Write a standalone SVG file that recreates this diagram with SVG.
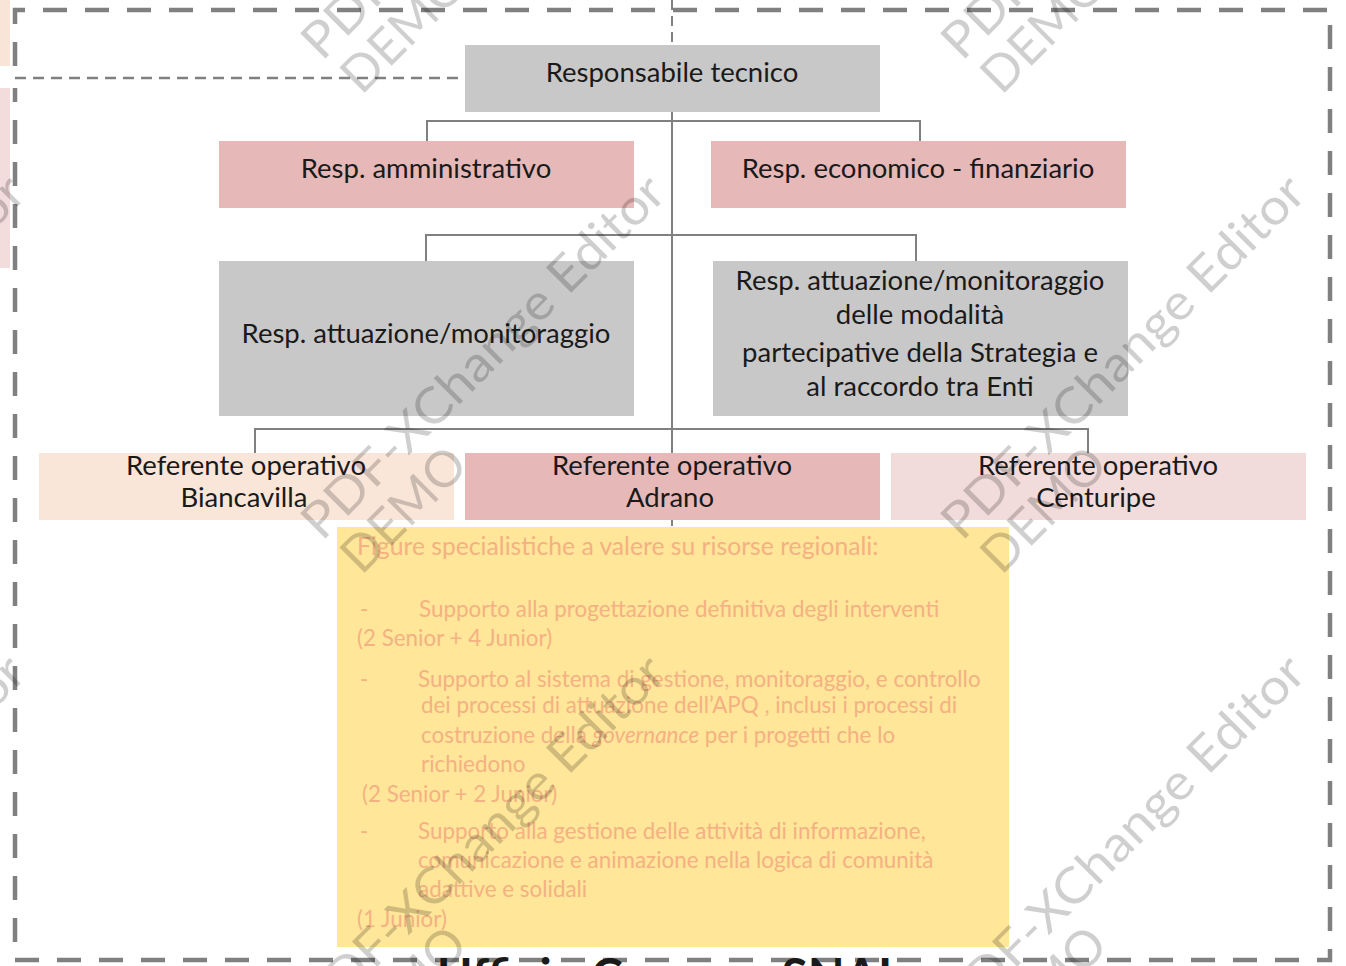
<svg xmlns="http://www.w3.org/2000/svg" width="1346" height="966" viewBox="0 0 1346 966">
<style>
.box text{font-family:Lato,"Liberation Sans",sans-serif;font-size:27.5px;fill:#1a1a1a;text-anchor:middle}
.conn{stroke:#808080;stroke-width:2;fill:none}
.yt{font-family:Lato,"Liberation Sans",sans-serif;font-size:22.4px;fill:#f4b183}
.yt.h{font-size:24.7px}
.wm{font-family:Lato,"Liberation Sans",sans-serif;font-size:50px;fill:#000;fill-opacity:0.19}
.gray{fill:#c8c8c8}.pink{fill:#e6b8b7}
</style>
<rect width="1346" height="966" fill="#fff"/>
<rect x="0" y="0" width="10" height="66" fill="#f9e5d8"/>
<rect x="0" y="88" width="10" height="180" fill="#f2dcdc"/>
<g id="frame" fill="none" stroke="#808080">
<path d="M15 66 V10 H1330 V960 H15 V88" stroke-width="4.5" stroke-dasharray="24 18"/>
<path d="M15 78 H470" stroke-width="2.5" stroke-dasharray="11 7"/>
<path d="M672 0 V45" stroke-width="2" stroke-dasharray="10 6"/>
</g>
<text x="437" y="993" font-family="Lato,'Liberation Sans',sans-serif" font-size="48" font-weight="bold" fill="#1a1a1a">Ufficio Comune SNAI</text>
<g id="connectors" class="conn">
<path d="M672 112 V526"/>
<path d="M427 141 V121 H920 V141"/>
<path d="M426 261 V235 H916 V261"/>
<path d="M255 453 V429 H1088 V453"/>
</g>
<g id="n1" class="box"><rect class="gray" x="465" y="45" width="415" height="67"/><text x="672" y="82">Responsabile tecnico</text></g>
<g id="n2" class="box"><rect class="pink" x="219" y="141" width="415" height="67"/><text x="426" y="178">Resp. amministrativo</text></g>
<g id="n3" class="box"><rect class="pink" x="711" y="141" width="415" height="67"/><text x="918" y="178">Resp. economico - finanziario</text></g>
<g id="n4" class="box"><rect class="gray" x="219" y="261" width="415" height="155"/><text x="426" y="343">Resp. attuazione/monitoraggio</text></g>
<g id="n5" class="box"><rect class="gray" x="713" y="261" width="415" height="155"/><text x="920" y="290">Resp. attuazione/monitoraggio</text><text x="920" y="324">delle modalità</text><text x="920" y="362">partecipative della Strategia e</text><text x="920" y="396">al raccordo tra Enti</text></g>
<g id="n6" class="box"><rect fill="#fae5d9" x="39" y="453" width="415" height="67"/><text x="246" y="475">Referente operativo</text><text x="244" y="507">Biancavilla</text></g>
<g id="n7" class="box"><rect class="pink" x="465" y="453" width="415" height="67"/><text x="672" y="475">Referente operativo</text><text x="670" y="507">Adrano</text></g>
<g id="n8" class="box"><rect fill="#f2dcdb" x="891" y="453" width="415" height="67"/><text x="1098" y="475">Referente operativo</text><text x="1096" y="507">Centuripe</text></g>
<g id="n9">
<rect fill="#ffe699" x="337" y="527" width="672" height="420"/>
<text class="yt h" x="357" y="555">Figure specialistiche a valere su risorse regionali:</text>
<text class="yt" x="360" y="617">-</text><text class="yt" x="419" y="617">Supporto alla progettazione definitiva degli interventi</text>
<text class="yt" x="357" y="646">(2 Senior + 4 Junior)</text>
<text class="yt" x="360" y="687">-</text><text class="yt" x="418" y="687">Supporto al sistema di gestione, monitoraggio, e controllo</text>
<text class="yt" x="421" y="713">dei processi di attuazione dell’APQ , inclusi i processi di</text>
<text class="yt" x="421" y="743">costruzione della <tspan font-style="italic">governance</tspan> per i progetti che lo</text>
<text class="yt" x="421" y="772">richiedono</text>
<text class="yt" x="362" y="802">(2 Senior + 2 Junior)</text>
<text class="yt" x="360" y="839">-</text><text class="yt" x="418" y="839">Supporto alla gestione delle attività di informazione,</text>
<text class="yt" x="418" y="868">comunicazione e animazione nella logica di comunità</text>
<text class="yt" x="418" y="897">adattive e solidali</text>
<text class="yt" x="357" y="927">(1 Junior)</text>
</g>
<defs>
<g id="wmk"><text class="wm" x="0" y="0" textLength="490" lengthAdjust="spacingAndGlyphs">PDF-XChange Editor</text><text class="wm" x="4" y="52">DEMO</text></g>
</defs>
<g id="watermarks">
<use href="#wmk" transform="translate(-318 62) rotate(-45)"/>
<use href="#wmk" transform="translate(322 62) rotate(-45)"/>
<use href="#wmk" transform="translate(962 62) rotate(-45)"/>
<use href="#wmk" transform="translate(-318 542) rotate(-45)"/>
<use href="#wmk" transform="translate(322 542) rotate(-45)"/>
<use href="#wmk" transform="translate(962 542) rotate(-45)"/>
<use href="#wmk" transform="translate(-318 1022) rotate(-45)"/>
<use href="#wmk" transform="translate(322 1022) rotate(-45)"/>
<use href="#wmk" transform="translate(962 1022) rotate(-45)"/>
</g>
</svg>
